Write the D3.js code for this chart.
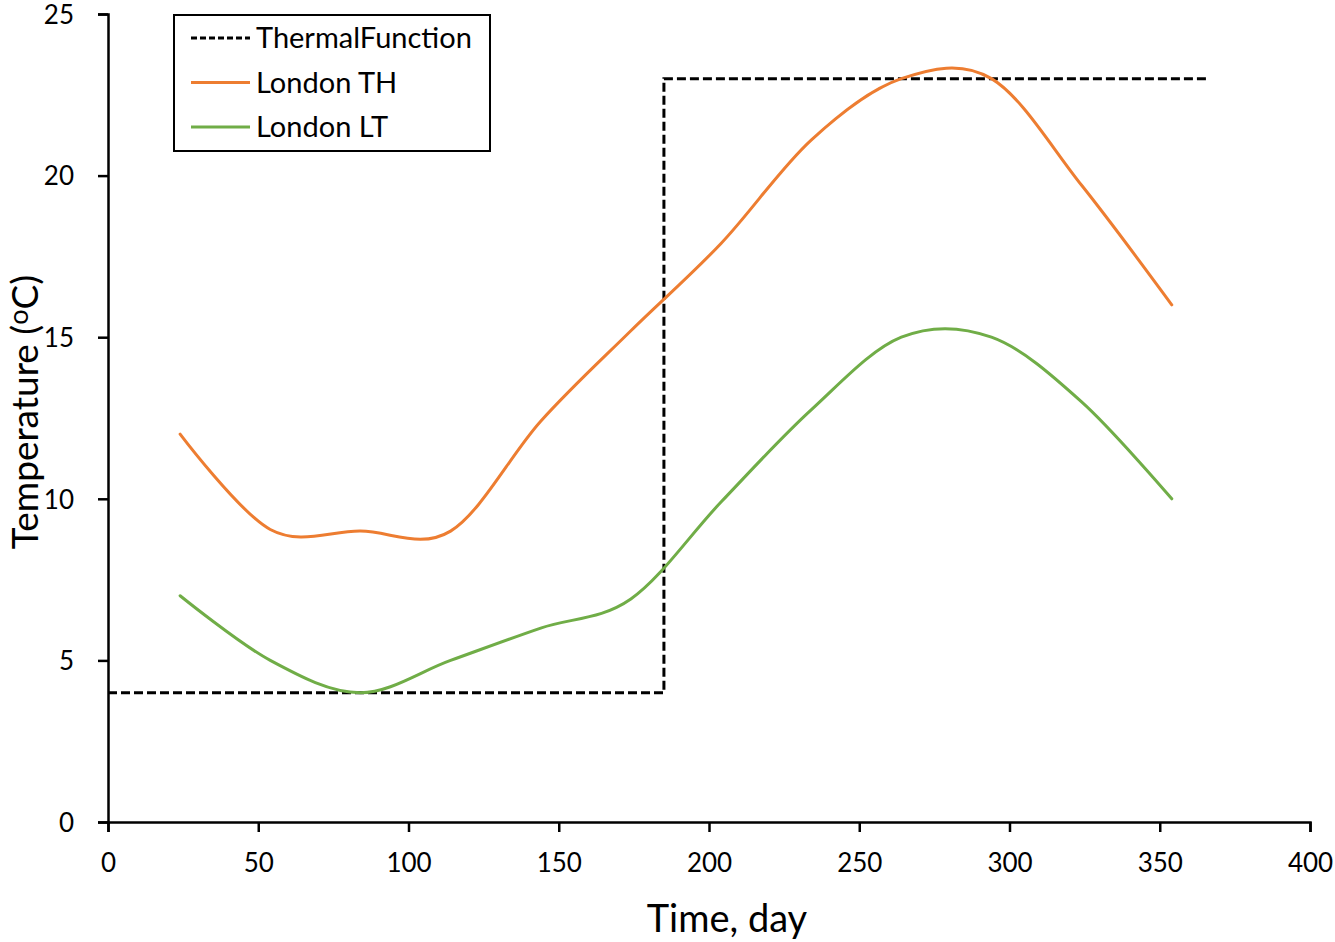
<!DOCTYPE html>
<html><head><meta charset="utf-8">
<script src="https://cdn.jsdelivr.net/npm/d3@7"></script>
<style>
html,body{margin:0;padding:0;background:#fff;}
text{font-family:Lato,"Open Sans",sans-serif;fill:#000;}
</style></head>
<body><svg id="chart" width="1335" height="942"></svg>
<script>
// Data
const days = [24, 54, 84, 114, 144, 174, 204, 234, 264, 294, 324, 354];
const londonTH = [12.0, 9.05, 9.0, 9.0, 12.4, 15.2, 17.9, 21.1, 23.0, 23.0, 19.7, 16.0];
const londonLT = [7.0, 5.0, 4.0, 5.0, 6.0, 6.9, 9.9, 12.75, 15.0, 15.0, 13.0, 10.0];
const thermalX = [0, 185, 185, 366];
const thermalY = [4, 4, 23, 23];
const xTicks = [0, 50, 100, 150, 200, 250, 300, 350, 400];
const yTicks = [0, 5, 10, 15, 20, 25];
const seriesNames = ["ThermalFunction", "London TH", "London LT"];
const seriesColors = ["#000000", "#ED7D31", "#70AD47"];

const svg = d3.select("#chart");
const x = d3.scaleLinear().domain([0, 400]).range([108, 1310]);
const y = d3.scaleLinear().domain([0, 25]).range([822, 14]);

// axes
const xAxis = svg.append("g").attr("transform", "translate(0,822)")
  .call(d3.axisBottom(x).tickValues(xTicks).tickSize(10).tickPadding(22));
const yAxis = svg.append("g").attr("transform", "translate(108,0)")
  .call(d3.axisLeft(y).tickValues(yTicks).tickSize(10).tickPadding(24));
[xAxis, yAxis].forEach(a => {
  a.select(".domain").attr("stroke", "#000").attr("stroke-width", 2.5);
  a.selectAll(".tick line").attr("stroke", "#000").attr("stroke-width", 2.5);
  a.selectAll(".tick text").style("font-size", "26px").attr("fill", "#000");
});
yAxis.selectAll(".tick text").attr("dy", "0.36em");

// lines
const smooth = d3.line().x(d => x(d[0])).y(d => y(d[1])).curve(d3.curveCatmullRom.alpha(0));
const straight = d3.line().x(d => x(d[0])).y(d => y(d[1]));

svg.append("path").datum(thermalX.map((v, i) => [v, thermalY[i]]))
  .attr("d", straight).attr("fill", "none").attr("stroke", seriesColors[0])
  .attr("stroke-width", 3).attr("stroke-dasharray", "9,4");

svg.append("path").datum(days.map((d, i) => [d, londonTH[i]]))
  .attr("d", smooth).attr("fill", "none").attr("stroke", seriesColors[1])
  .attr("stroke-width", 3).attr("stroke-linecap", "round");

svg.append("path").datum(days.map((d, i) => [d, londonLT[i]]))
  .attr("d", smooth).attr("fill", "none").attr("stroke", seriesColors[2])
  .attr("stroke-width", 3).attr("stroke-linecap", "round");

// axis titles
svg.append("text").attr("x", 727).attr("y", 932).attr("text-anchor", "middle")
  .style("font-size", "38px").text("Time, day");
const yt = svg.append("text").attr("transform", "translate(38,412) rotate(-90)")
  .attr("text-anchor", "middle").style("font-size", "37px");
yt.append("tspan").text("Temperature (");
yt.append("tspan").attr("dy", -10).style("font-size", "27px").text("o");
yt.append("tspan").attr("dy", 10).text("C)");

// legend
const lg = svg.append("g");
lg.append("rect").attr("x", 174).attr("y", 15).attr("width", 316).attr("height", 136)
  .attr("fill", "#fff").attr("stroke", "#000").attr("stroke-width", 2);
seriesNames.forEach((name, i) => {
  const cy = 38 + i * 44.5;
  lg.append("line").attr("x1", 191).attr("x2", 250).attr("y1", cy).attr("y2", cy)
    .attr("stroke", seriesColors[i]).attr("stroke-width", 3)
    .attr("stroke-dasharray", i === 0 ? "6,3" : null);
  lg.append("text").attr("x", 256).attr("y", cy).attr("dy", "0.35em")
    .style("font-size", "29px").text(name);
});
</script></body></html>
